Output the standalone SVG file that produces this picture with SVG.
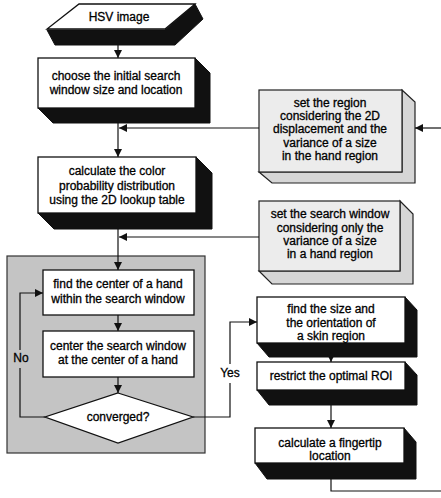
<svg xmlns="http://www.w3.org/2000/svg" width="441" height="498" viewBox="0 0 441 498">
<style>
text{font-family:"Liberation Sans",Arial,sans-serif;font-size:12px;fill:#000;stroke:#000;stroke-width:0.3;text-anchor:middle}
.face{fill:#fff;stroke:#111;stroke-width:1.3}
.ext{fill:#111;stroke:#111;stroke-width:1}
.lface{fill:#ececec;stroke:#222;stroke-width:1.2}
.lext{fill:#d6d6d6;stroke:#222;stroke-width:1.2}
.loop{fill:#c4c4c4;stroke:#333;stroke-width:1.2}
.c{fill:none;stroke:#111;stroke-width:1.2}
</style>
<defs>
<marker id="ah" viewBox="0 0 8 8" refX="8" refY="4" markerWidth="8" markerHeight="8" markerUnits="userSpaceOnUse" orient="auto">
<path d="M0,0 L8,4 L0,8 z" fill="#111"/>
</marker>
</defs>

<rect id="loop-region" class="loop" x="7" y="256" width="198" height="197"/>

<g id="hsv">
<polygon class="ext" points="195,4 203,19 175,45 55,45 47,30 165,30"/>
<polygon class="face" points="79,4 195,4 165,29 47,29"/>
<text x="119" y="21">HSV image</text>
</g>

<g id="choose">
<polygon class="ext" points="195,58 210,73 210,123 53,123 38,108 195,108"/>
<rect class="face" x="38" y="58" width="157" height="50"/>
<text x="116" y="80">choose the initial search</text>
<text x="116" y="94">window size and location</text>
</g>

<g id="calc-color">
<polygon class="ext" points="196,157 212,173 212,229 54,229 38,213 196,213"/>
<rect class="face" x="38" y="157" width="158" height="56"/>
<text x="117" y="175">calculate the color</text>
<text x="117" y="190">probability distribution</text>
<text x="117" y="204">using the 2D lookup table</text>
</g>

<g id="set-region">
<polygon class="lext" points="402,90 415,102 415,183 272,183 259,172 402,172"/>
<rect class="lface" x="259" y="90" width="143" height="82"/>
<text x="330" y="107">set the region</text>
<text x="330" y="120">considering the 2D</text>
<text x="330" y="133">displacement and the</text>
<text x="330" y="147">variance of a size</text>
<text x="330" y="160">in the hand region</text>
</g>

<g id="set-window">
<polygon class="lext" points="400,201 413,214 413,284 272,284 259,271 400,271"/>
<rect class="lface" x="259" y="201" width="141" height="70"/>
<text x="330" y="218">set the search window</text>
<text x="330" y="232">considering only the</text>
<text x="330" y="245">variance of a size</text>
<text x="330" y="258">in a hand region</text>
</g>

<g id="find-center">
<rect class="face" x="43" y="270" width="151" height="45"/>
<text x="118" y="288">find the center of a hand</text>
<text x="118" y="303">within the search window</text>
</g>

<g id="center-window">
<rect class="face" x="43" y="331" width="151" height="46"/>
<text x="118" y="350">center the search window</text>
<text x="118" y="364">at the center of a hand</text>
</g>

<g id="converged">
<polygon class="face" points="118,393 193,417 118,443 45,417"/>
<text x="118" y="421">converged?</text>
</g>

<g id="find-size">
<polygon class="ext" points="405,297 417,310 417,357 269,357 257,343 405,343"/>
<rect class="face" x="257" y="297" width="148" height="46"/>
<text x="331" y="313">find the size and</text>
<text x="331" y="327">the orientation of</text>
<text x="331" y="340">a skin region</text>
</g>

<g id="restrict">
<polygon class="ext" points="405,362 417,375 417,405 269,405 257,390 405,390"/>
<rect class="face" x="257" y="362" width="148" height="28"/>
<text x="331" y="380">restrict the optimal ROI</text>
</g>

<g id="fingertip">
<polygon class="ext" points="404,428 416,442 416,479 267,479 255,463 404,463"/>
<rect class="face" x="255" y="428" width="149" height="35"/>
<text x="330" y="447">calculate a fingertip</text>
<text x="330" y="460">location</text>
</g>

<g id="labels">
<text x="21" y="362">No</text>
<text x="230" y="377">Yes</text>
</g>

<g id="connectors">
<path class="c" d="M118,45 L118,58" marker-end="url(#ah)"/>
<path class="c" d="M118,123 L118,157" marker-end="url(#ah)"/>
<path class="c" d="M259,128 L119,128" marker-end="url(#ah)"/>
<path class="c" d="M441,128 L415,128" marker-end="url(#ah)"/>
<path class="c" d="M118,229 L118,270" marker-end="url(#ah)"/>
<path class="c" d="M259,237 L119,237" marker-end="url(#ah)"/>
<path class="c" d="M118,315 L118,331" marker-end="url(#ah)"/>
<path class="c" d="M118,377 L118,393" marker-end="url(#ah)"/>
<path class="c" d="M45,417 L20,417 L20,368"/>
<path class="c" d="M20,350 L20,293 L43,293" marker-end="url(#ah)"/>
<path class="c" d="M193,417 L230,417 L230,383"/>
<path class="c" d="M230,364 L230,322 L257,322" marker-end="url(#ah)"/>
<path class="c" d="M331,352 L331,362" marker-end="url(#ah)"/>
<path class="c" d="M331,405 L331,428" marker-end="url(#ah)"/>
<path class="c" d="M331,479 L331,491 L441,491"/>
</g>
</svg>
